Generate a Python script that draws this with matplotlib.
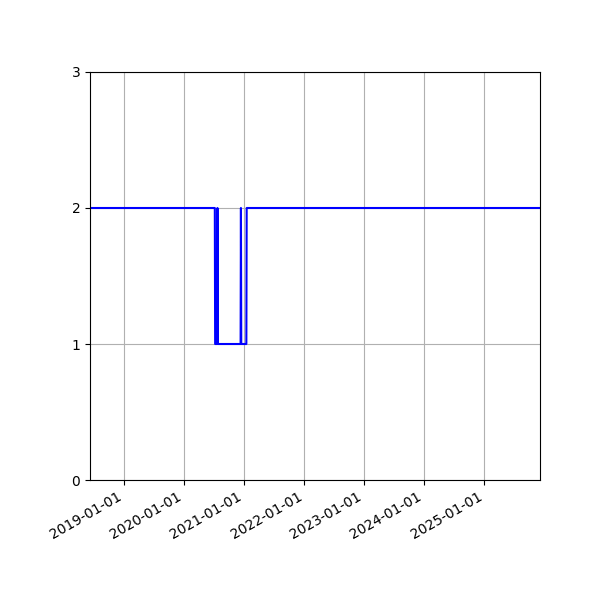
import numpy as np
import pandas as pd
import matplotlib
matplotlib.use('Agg')
from matplotlib import pyplot as plt
import matplotlib.dates as mdates

# datapunkter (dato, verdi) lest av bildet
datoer = ['2018-06-06', '2020-07-05', '2020-07-07', '2020-07-19', '2020-07-21',
          '2020-07-24', '2020-12-09', '2020-12-11', '2020-12-13', '2021-01-13',
          '2021-01-15', '2025-12-06']
verdier = [2, 2, 1, 1, 2, 1, 1, 2, 1, 1, 2, 2]

x = pd.to_datetime(datoer)

fig = plt.figure(figsize=(6, 6), dpi=100)
ax = fig.add_axes([0.15, 0.2, 0.75, 0.68])
ax.plot(x, verdier, color='blue', lw=1.5)
ax.set_ylim(0, 3)
ax.set_yticks([0, 1, 2, 3])
ax.set_xlim(x[0], x[-1])
ax.xaxis.set_major_locator(mdates.YearLocator())
ax.xaxis.set_major_formatter(mdates.DateFormatter('%Y-%m-%d'))
for lbl in ax.get_xticklabels():
    lbl.set_rotation(30)
    lbl.set_ha('right')
ax.grid()
fig.savefig('out.png')
